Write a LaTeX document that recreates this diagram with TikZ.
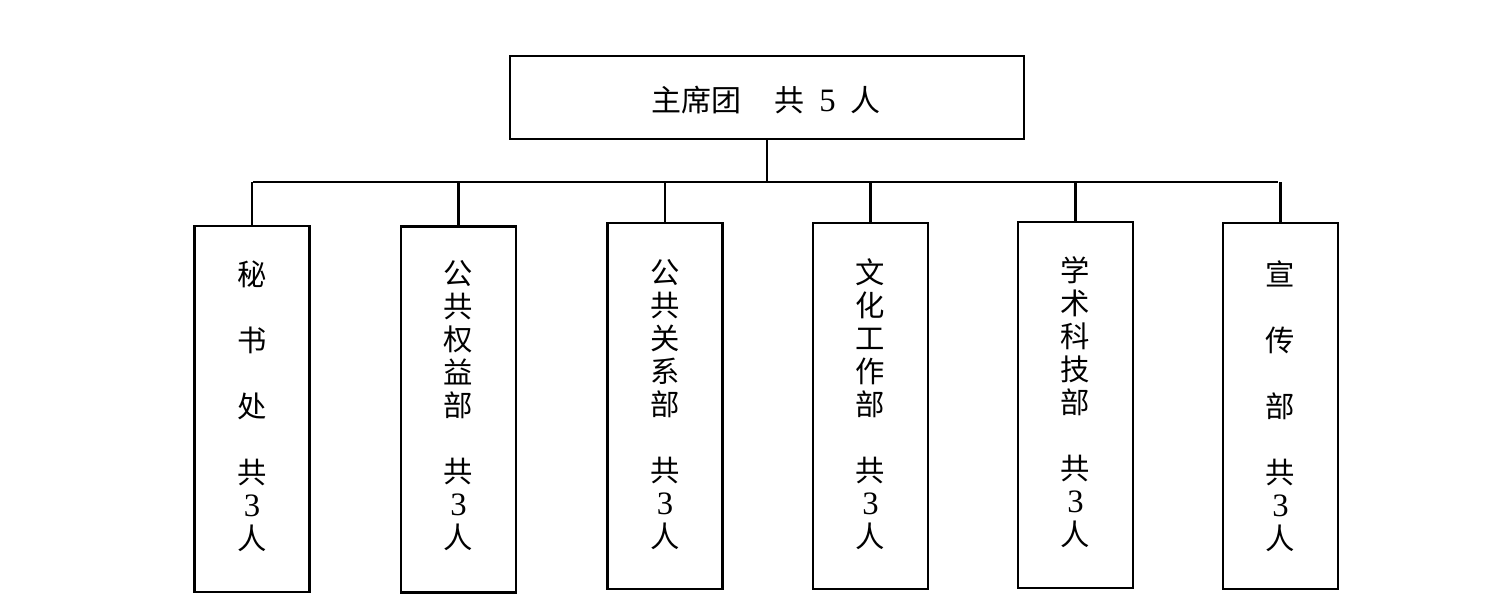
\documentclass[tikz,border=0pt]{standalone}
\usepackage{fontspec}
\setmainfont{Liberation Serif}
\newfontfamily\cjk{Noto Sans CJK SC}
\newfontfamily\tnr{Liberation Serif}
\newcommand{\dg}[1]{{\tnr\fontsize{24.5}{24.75}\selectfont #1}}
\begin{document}
\begin{tikzpicture}[x=0.75pt,y=-0.75pt,
  topbox/.style={draw, line width=2.2pt, minimum width=514*0.75pt, minimum height=83*0.75pt, inner sep=0pt},
  deptbox/.style={draw, line width=2.2pt, minimum width=115*0.75pt, minimum height=366*0.75pt, inner sep=0pt},
  thinline/.style={line width=1pt},
  stubline/.style={line width=1.8pt},
  lbl/.style={align=center, inner sep=0pt, font=\cjk\fontsize{22}{24.75}\selectfont}]
\useasboundingbox (0,0) rectangle (1506,605);
\node[topbox] (top) at (767,97.5) {};
\node[inner sep=0pt, font=\cjk\fontsize{22.5}{24.75}\selectfont] (toplbl) at (766,100) {主席团\hspace{1.1em}共\hspace{0.5em}\dg{5}\hspace{0.5em}人};
\coordinate (bar) at (767,182);
\coordinate (barL) at (253,182);
\coordinate (barR) at (1278,182);
\draw[thinline] (top.south) -- (bar);
\draw[thinline] (barL) -- (barR);
% departments
\node[deptbox] (d1) at (252,409) {};
\node[deptbox] (d2) at (458.5,409.5) {};
\node[deptbox] (d3) at (665,406) {};
\node[deptbox] (d4) at (870.5,406) {};
\node[deptbox] (d5) at (1075.5,405) {};
\node[deptbox] (d6) at (1280.5,406) {};
\node[lbl] (l1) at (252,406) {秘\\\mbox{}\\书\\\mbox{}\\处\\\mbox{}\\共\\\dg{3}\\人};
\node[lbl] (l2) at (458.5,406) {公\\共\\权\\益\\部\\\mbox{}\\共\\\dg{3}\\人};
\node[lbl] (l3) at (665,405) {公\\共\\关\\系\\部\\\mbox{}\\共\\\dg{3}\\人};
\node[lbl] (l4) at (870.5,404) {文\\化\\工\\作\\部\\\mbox{}\\共\\\dg{3}\\人};
\node[lbl] (l5) at (1075.5,402) {学\\术\\科\\技\\部\\\mbox{}\\共\\\dg{3}\\人};
\node[lbl] (l6) at (1280.5,406) {宣\\\mbox{}\\传\\\mbox{}\\部\\\mbox{}\\共\\\dg{3}\\人};
\foreach \d in {d1,d2,d3,d4,d5,d6}
  \draw[stubline] (\d.north) -- (\d.north |- bar);
\end{tikzpicture}
\end{document}
